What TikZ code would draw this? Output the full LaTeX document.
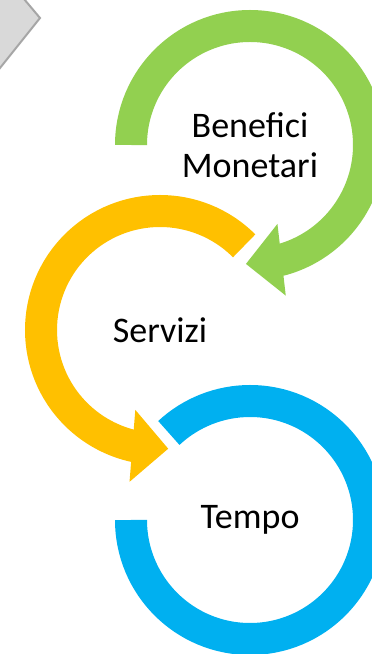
\documentclass[tikz,border=0pt]{standalone}
\usepackage{fontspec}
\setmainfont{Carlito}
\usepackage{tikz}
\usetikzlibrary{arrows.meta,bending,positioning}
\definecolor{ringgreen}{HTML}{92D050}
\definecolor{ringyellow}{HTML}{FFC000}
\definecolor{ringblue}{HTML}{00B0F0}
\definecolor{tabfill}{HTML}{D9D9D9}
\definecolor{tabline}{HTML}{A6A6A6}
\tikzset{ringtext/.style={text=black, align=center, inner sep=0pt, font=\fontsize{36}{40}\selectfont}}
\tikzset{ring/.style={line width=32pt, line cap=butt}}
\tikzset{ringarrow/.style={ring, -{Triangle[length=36pt, width=70pt]}}}

\begin{document}
\begin{tikzpicture}[x=1pt, y=1pt, on grid]
  \useasboundingbox (0,0) rectangle (372,654);
  % grey tab in the corner
  \begin{scope}
    \clip (0,0) rectangle (372,654);
    \draw[tabline, fill=tabfill, line width=2pt] (3,680) -- (40,636) -- (-20,561) -- (-20,680) -- cycle;
  \end{scope}

  \node[ringtext] (benefici) at (250,509) {Benefici\\Monetari};
  \node[ringtext, below left=185pt and 90pt of benefici] (servizi) {Servizi};
  \node[ringtext, below right=190pt and 90pt of servizi] (tempo) {Tempo};

  \draw[ring, ringblue] (tempo.center) ++(180:119pt) arc[start angle=180, end angle=493, radius=119pt];
  \draw[ringarrow, ringyellow] (servizi.center) ++(45:119pt) arc[start angle=45, end angle=274, radius=119pt];
  \draw[ringarrow, ringgreen] (benefici.center) ++(180:119pt) arc[start angle=180, end angle=-92, radius=119pt];
\end{tikzpicture}
\end{document}
